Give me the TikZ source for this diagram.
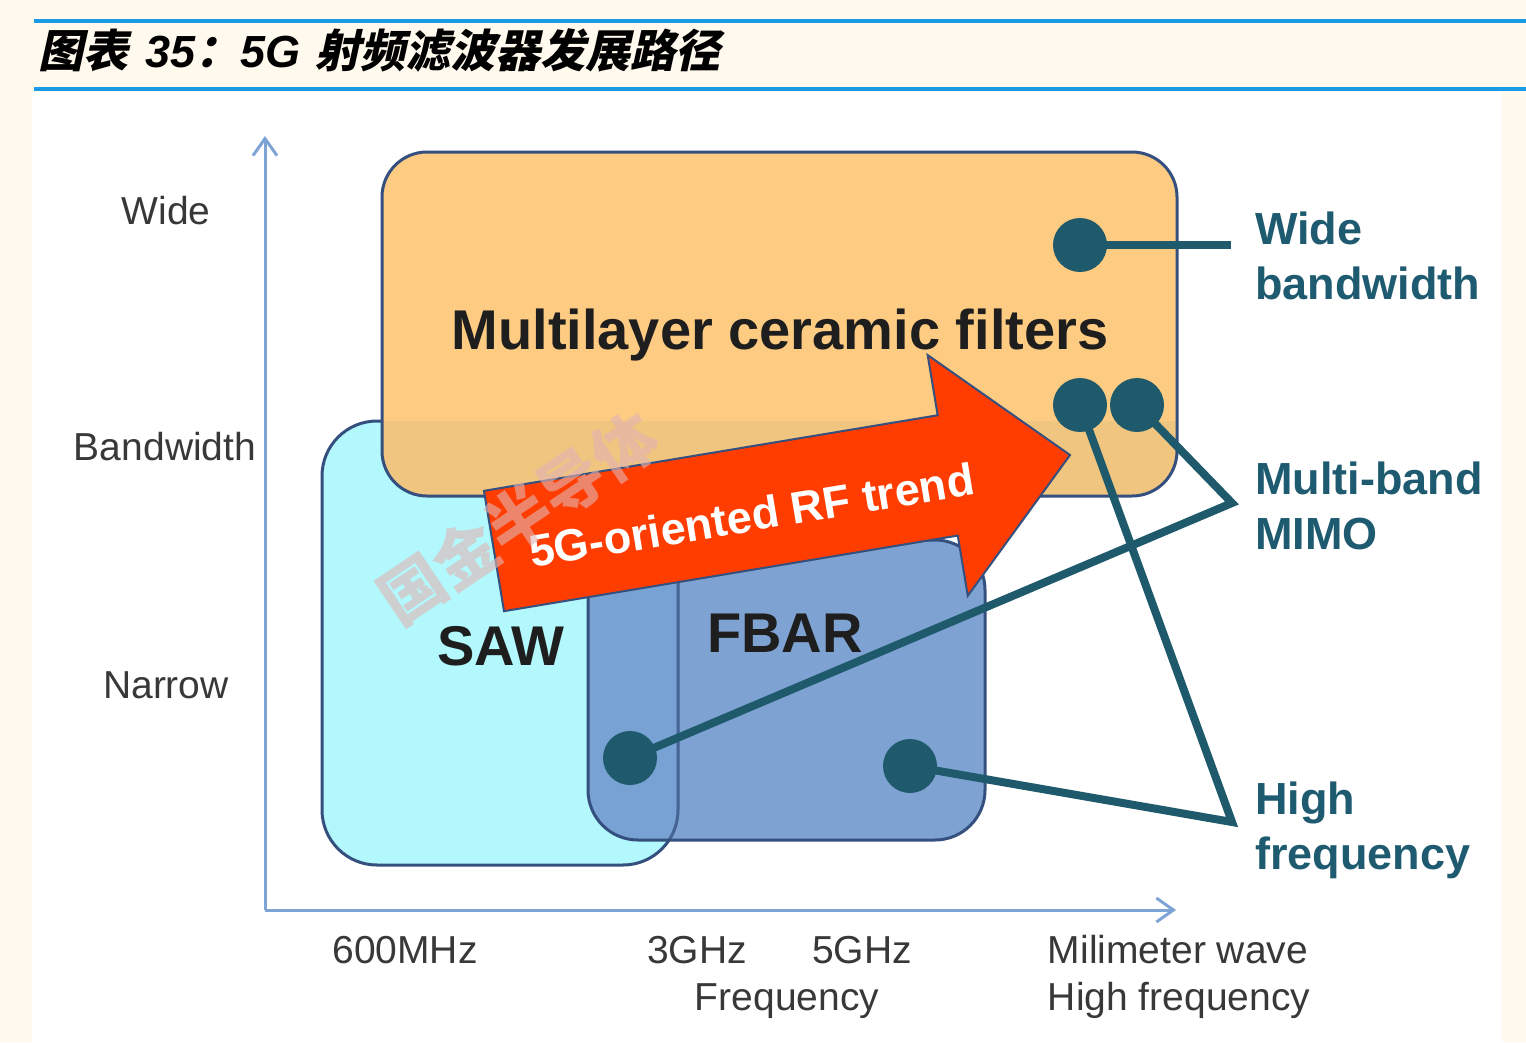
\documentclass[tikz,border=0pt]{standalone}
\usepackage{fontspec}
\setmainfont{Liberation Sans}
\newfontfamily\cjktitle[FakeSlant=0.22]{Noto Sans CJK SC}
\newfontfamily\cjkplain{Noto Sans CJK SC}
\usetikzlibrary{arrows.meta}
\definecolor{bgcream}{HTML}{FFF9EE}
\definecolor{titleblue}{HTML}{1A9BE6}
\definecolor{axisblue}{HTML}{7EA4D6}
\definecolor{ceramic}{HTML}{FDCB82}
\definecolor{ceramicband}{HTML}{F0C580}
\definecolor{sawcyan}{HTML}{B2F8FC}
\definecolor{fbarblue}{HTML}{7199CF}
\definecolor{boxborder}{HTML}{35507E}
\definecolor{arrowred}{HTML}{FF3D00}
\definecolor{dotteal}{HTML}{1E5A6B}
\definecolor{darktext}{HTML}{1E1E1E}
\definecolor{axisgray}{HTML}{383838}
\definecolor{sideteal}{HTML}{1F5B70}
\definecolor{wmcolor}{HTML}{E2B4B4}
\tikzset{
  boxline/.style={draw=boxborder, line width=3pt},
  link/.style={draw=dotteal, line width=8pt, line join=miter},
  dot/.style={circle, fill=dotteal, minimum size=54pt, inner sep=0pt},
  axislbl/.style={font=\fontsize{39}{47}\selectfont, text=axisgray, anchor=base, inner sep=0pt},
  sidelbl/.style={font=\fontsize{45}{55}\selectfont\bfseries, text=sideteal, anchor=base west, inner sep=0pt},
  biglbl/.style={font=\fontsize{56}{66}\selectfont\bfseries, text=darktext, anchor=base, inner sep=0pt},
  axisline/.style={draw=axisblue, line width=3pt, -{Straight Barb[length=17pt,width=24pt]}},
}
\begin{document}
\begin{tikzpicture}[x=1pt,y=-1pt]
\useasboundingbox (0,0) rectangle (1526,1042);
\fill[bgcream] (0,0) rectangle (1526,1042);
\fill[white] (32,92) rectangle (1502,1042);
% title lines
\draw[titleblue, line width=4pt] (34,21) -- (1526,21);
\draw[titleblue, line width=4pt] (34,89) -- (1526,89);
\node[anchor=base west, inner sep=0pt, font=\fontsize{45}{54}\selectfont] (title) at (38,67)
  {{\cjktitle\bfseries 图表}\hspace{17pt}{\bfseries\itshape 35}{\cjktitle\bfseries ：}{\bfseries\itshape 5G}\hspace{15pt}{\cjktitle\bfseries 射频滤波器发展路径}};
% axes
\coordinate (O) at (265,910);
\coordinate (ytop) at (265,136);
\coordinate (xend) at (1176,910);
\draw[axisline] (O) -- (ytop);
\draw[axisline] (O) -- (xend);
% SAW box
\path[fill=sawcyan, boxline, rounded corners=55pt] (322,421) rectangle (678,865);
% ceramic box
\fill[ceramic, rounded corners=45pt] (382,152) rectangle (1177,496);
\begin{scope}
  \clip[rounded corners=45pt] (382,152) rectangle (1177,496);
  \fill[ceramicband] (382,421) rectangle (1177,496);
\end{scope}
\draw[boxline, rounded corners=45pt] (382,152) rectangle (1177,496);
% FBAR box
\fill[fbarblue, fill opacity=0.9, rounded corners=50pt] (588,540) rectangle (985,840);
\begin{scope}
  \clip[rounded corners=50pt] (588,540) rectangle (985,840);
  \draw[boxline, draw opacity=0.7, rounded corners=55pt] (322,421) rectangle (678,865);
\end{scope}
\draw[boxline, rounded corners=50pt] (588,540) rectangle (985,840);
% big labels
\node[biglbl] (mlc) at (780,349) {Multilayer ceramic filters};
\node[biglbl] (saw) at (501,665) {SAW};
\node[biglbl] (fbar) at (785,652) {FBAR};
% trend arrow
\begin{scope}[shift={(494,551)}, rotate=9.46]
  \draw[draw=boxborder, line width=2pt, fill=arrowred, line join=miter]
    (0,-61) -- (460,-61) -- (460,-122) -- (584,0) -- (460,122) -- (460,61) -- (0,61) -- cycle;
  \node[anchor=base, rotate=9.46, inner sep=0pt, text=white, font=\fontsize{45}{54}\selectfont\bfseries] (trend) at (260,23) {5G-oriented RF trend};
\end{scope}
% watermark
\node[rotate=34, text=wmcolor, text opacity=0.6, font=\fontsize{64}{70}\selectfont\cjkplain\bfseries] (wm) at (518,518) {国金半导体};
% axis labels
\node[axislbl] (lwide) at (166,224) {Wide};
\node[axislbl] (lbw) at (165,460) {Bandwidth};
\node[axislbl] (lnarrow) at (166,698) {Narrow};
\node[axislbl] (l600) at (405,963) {600MHz};
\node[axislbl] (l3g) at (697,963) {3GHz};
\node[axislbl] (l5g) at (862,963) {5GHz};
\node[axislbl] (lfreq) at (787,1010) {Frequency};
\node[axislbl] (lmm) at (1178,963) {Milimeter wave};
\node[axislbl] (lhf) at (1179,1010) {High frequency};
% side labels
\node[sidelbl] (s1a) at (1255,244) {Wide};
\node[sidelbl] (s1b) at (1255,299) {bandwidth};
\node[sidelbl] (s2a) at (1255,494) {Multi-band};
\node[sidelbl] (s2b) at (1255,549) {MIMO};
\node[sidelbl] (s3a) at (1255,814) {High};
\node[sidelbl] (s3b) at (1255,869) {frequency};
% connector geometry
\coordinate (p1) at (1080,245);
\coordinate (p2) at (1080,405);
\coordinate (p3) at (1137,405);
\coordinate (p4) at (630,758);
\coordinate (p5) at (910,766);
\coordinate (cw) at (1231,245);
\coordinate (cm) at (1232,503);
\coordinate (ch) at (1232,822);
\draw[link] (p1) -- (cw);
\draw[link] (p3) -- (cm) -- (p4);
\draw[link] (p2) -- (ch) -- (p5);
\node[dot] (d1) at (p1) {};
\node[dot] (d2) at (p2) {};
\node[dot] (d3) at (p3) {};
\node[dot] (d4) at (p4) {};
\node[dot] (d5) at (p5) {};
\end{tikzpicture}
\end{document}
